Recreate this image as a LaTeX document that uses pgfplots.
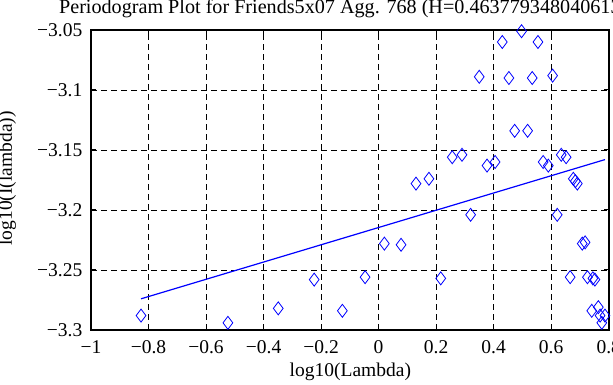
\documentclass[border=0pt]{standalone}
\usepackage{fontspec}
\setmainfont{Liberation Serif}
\usepackage{pgfplots}
\pgfplotsset{compat=1.18}
\definecolor{pblue}{RGB}{0,0,255}
\newcommand{\fs}{\fontsize{19.5pt}{23pt}\selectfont}
\begin{document}
\fs
\begin{tikzpicture}
\begin{axis}[
  at={(91pt,55pt)}, anchor=south west,
  scale only axis, width=517.7pt, height=300pt,
  xmin=-1, xmax=0.8, ymin=-3.3, ymax=-3.05,
  xtick={-1,-0.8,-0.6,-0.4,-0.2,0,0.2,0.4,0.6,0.8},
  xticklabels={−1,−0.8,−0.6,−0.4,−0.2,0,0.2,0.4,0.6,0.8},
  ytick={-3.3,-3.25,-3.2,-3.15,-3.1,-3.05},
  yticklabels={−3.3,−3.25,−3.2,−3.15,−3.1,−3.05},
  tick align=inside, major tick length=5pt,
  tick style={black, line width=1pt},
  axis line style={black, line width=1.6pt},
  grid=major,
  major grid style={black, dashed, line width=0.8pt, dash pattern=on 6pt off 4pt},
  ticklabel style={font=\fs},
  xticklabel style={yshift=-4pt},
  yticklabel style={xshift=-2pt},
  xlabel={log10(Lambda)},
  ylabel={log10(I(lambda))},
  xlabel style={at={(axis description cs:0.501,-0.139)}, anchor=center, font=\fs},
  ylabel style={at={(axis description cs:-0.162,0.505)}, anchor=center, rotate=0, font=\fs},
  title={Periodogram Plot for Friends5x07 Agg. 768 (H=0.4637793480406134)},
  title style={at={(axis description cs:-0.062,1.036)}, anchor=base west, inner sep=0pt, yshift=0pt, font=\fontsize{20.15pt}{24pt}\selectfont},
  clip=false,
]
\addplot[only marks, mark=diamond, mark size=6.5pt, pblue, mark options={line width=0.8pt}] coordinates {
(-0.826,-3.288)
(-0.524,-3.294)
(-0.349,-3.282)
(-0.224,-3.258)
(-0.126,-3.284)
(-0.047,-3.256)
(0.020,-3.228)
(0.078,-3.229)
(0.130,-3.178)
(0.175,-3.174)
(0.216,-3.257)
(0.256,-3.156)
(0.290,-3.154)
(0.320,-3.204)
(0.350,-3.089)
(0.377,-3.163)
(0.405,-3.160)
(0.430,-3.060)
(0.453,-3.090)
(0.473,-3.134)
(0.497,-3.051)
(0.518,-3.134)
(0.534,-3.090)
(0.554,-3.060)
(0.572,-3.160)
(0.590,-3.163)
(0.605,-3.088)
(0.621,-3.204)
(0.635,-3.154)
(0.652,-3.156)
(0.666,-3.256)
(0.677,-3.174)
(0.684,-3.176)
(0.691,-3.178)
(0.708,-3.228)
(0.718,-3.227)
(0.726,-3.256)
(0.741,-3.284)
(0.745,-3.257)
(0.752,-3.258)
(0.764,-3.281)
(0.770,-3.288)
(0.776,-3.294)
(0.787,-3.288)
};
\addplot[pblue, line width=1.2pt] coordinates {(-0.826,-3.274) (0.787,-3.158)};
\end{axis}
\pgfresetboundingbox
\useasboundingbox (0,0) rectangle (613pt,385pt);
\end{tikzpicture}
\end{document}
